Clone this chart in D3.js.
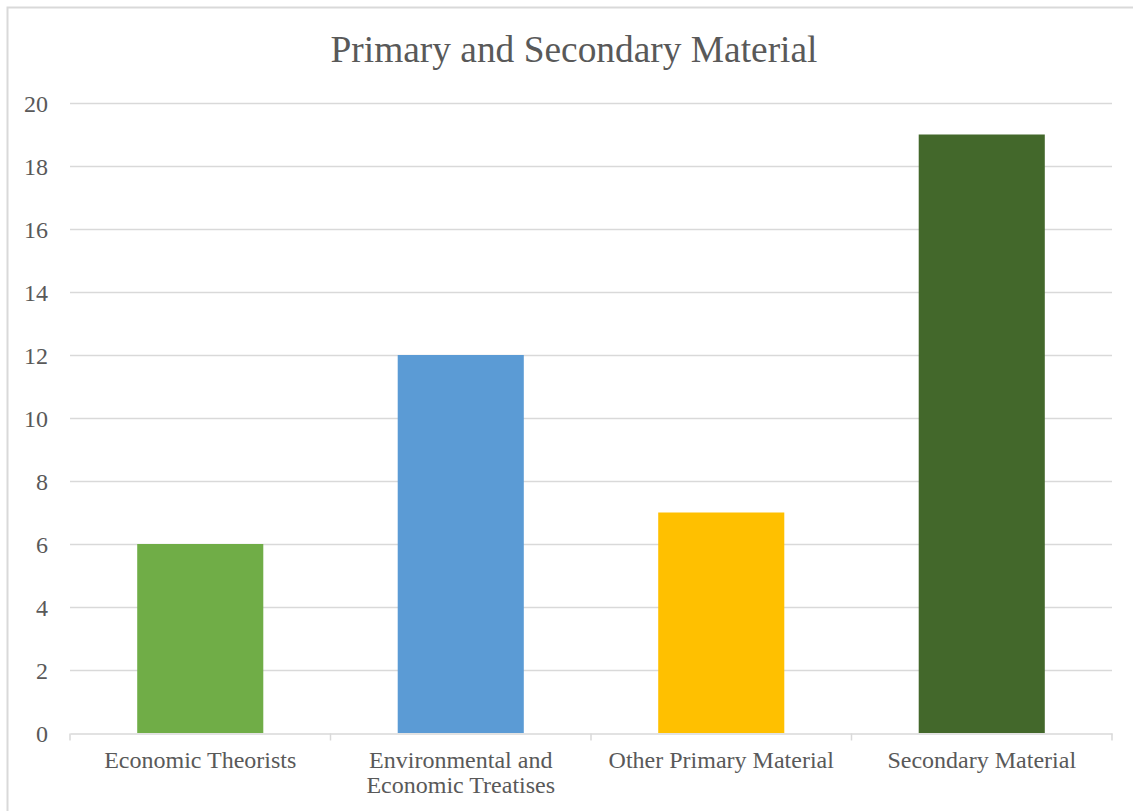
<!DOCTYPE html>
<html>
<head>
<meta charset="utf-8">
<script src="https://cdn.jsdelivr.net/npm/d3@7"></script>
<style>
  html, body { margin: 0; padding: 0; background: #fff; }
  svg { display: block; }
  text { font-family: "Liberation Serif", "Times New Roman", serif; fill: #595959; }
</style>
</head>
<body>
<svg id="chart" width="1133" height="811"></svg>
<script>
// Counts of sources by category
const categories = [
  ["Economic Theorists"],
  ["Environmental and", "Economic Treatises"],
  ["Other Primary Material"],
  ["Secondary Material"]
];
const values = [6, 12, 7, 19];
const barColors = ["#70AD47", "#5B9BD5", "#FFC000", "#43682B"];
const yTicks = [0, 2, 4, 6, 8, 10, 12, 14, 16, 18, 20];
const title = "Primary and Secondary Material";

const svg = d3.select("#chart");
const W = 1133, H = 811;
const plot = { left: 70, right: 1112, top: 103, bottom: 733 };

// Outer chart frame (extends past the right and bottom edges)
svg.append("rect")
  .attr("x", 7.5).attr("y", 7.5)
  .attr("width", W + 20).attr("height", H + 20)
  .attr("fill", "#fff").attr("stroke", "#d9d9d9").attr("stroke-width", 2);

const keys = categories.map((c, i) => i);
const x = d3.scaleBand().domain(keys).range([plot.left, plot.right]).paddingInner(0.516).paddingOuter(0.258);
const xOuter = d3.scaleBand().domain(keys).range([plot.left, plot.right]);
const y = d3.scaleLinear().domain([0, 20]).range([plot.bottom, plot.top]);

// Horizontal gridlines
svg.append("g")
  .selectAll("line")
  .data(yTicks.filter(t => t > 0))
  .join("line")
  .attr("x1", plot.left).attr("x2", plot.right)
  .attr("y1", d => Math.round(y(d)) + 0.5).attr("y2", d => Math.round(y(d)) + 0.5)
  .attr("stroke", "#d9d9d9").attr("stroke-width", 1.5);

// Y axis labels
const yAxis = d3.axisLeft(y).tickValues(yTicks).tickSize(0).tickPadding(0);
const gy = svg.append("g").attr("transform", `translate(${plot.left - 22},0)`).call(yAxis);
gy.select(".domain").remove();
gy.selectAll("text")
  .attr("font-size", 24)
  .attr("dy", "0.35em")
  .style("font-family", "'Liberation Serif', 'Times New Roman', serif")
  .attr("fill", "#595959");

// Bars
svg.append("g")
  .selectAll("rect")
  .data(values)
  .join("rect")
  .attr("x", (d, i) => x(i))
  .attr("width", x.bandwidth())
  .attr("y", d => y(d))
  .attr("height", d => y(0) - y(d))
  .attr("fill", (d, i) => barColors[i]);

// X axis baseline with category dividers
const xAxis = d3.axisBottom(xOuter).tickSize(0).tickFormat(() => "");
const gx = svg.append("g").attr("transform", `translate(0,${Math.round(y(0)) + 0.5})`).call(xAxis);
gx.select(".domain").attr("stroke", "#d9d9d9").attr("stroke-width", 1.5);
gx.selectAll(".tick").remove();
const dividers = keys.map(k => xOuter(k)).concat([plot.right]);
gx.selectAll("line.div")
  .data(dividers)
  .join("line")
  .attr("class", "div")
  .attr("x1", d => d).attr("x2", d => d)
  .attr("y1", 0).attr("y2", 7)
  .attr("stroke", "#d9d9d9").attr("stroke-width", 1.5);

// Category labels
const labels = svg.append("g");
categories.forEach((lines, i) => {
  const cx = xOuter(i) + xOuter.bandwidth() / 2;
  const t = labels.append("text")
    .attr("x", cx).attr("y", 768)
    .attr("text-anchor", "middle")
    .attr("font-size", 24);
  lines.forEach((ln, j) => {
    t.append("tspan").attr("x", cx).attr("dy", j === 0 ? 0 : 25).text(ln);
  });
});

// Title
svg.append("text")
  .attr("x", 574).attr("y", 62)
  .attr("text-anchor", "middle")
  .attr("font-size", 37.4)
  .text(title);
</script>
</body>
</html>
